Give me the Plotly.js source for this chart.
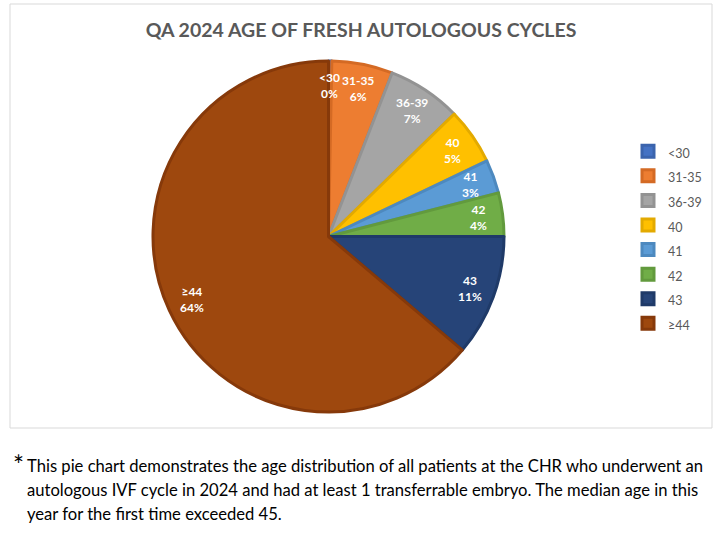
<!DOCTYPE html>
<html><head><meta charset="utf-8">
<script src="https://cdn.plot.ly/plotly-3.0.1.min.js"></script>
<style>html,body{margin:0;padding:0;background:#fff}#chart{width:724px;height:536px}</style>
</head><body><div id="chart"></div>
<script>
const categories = ['<30', '31-35', '36-39', '40', '41', '42', '43', '≥44'];
const shares = [0.3, 5.6, 6.8, 5.2, 3.1, 4.0, 11.2, 63.8];
const colors = ['#4472C4', '#ED7D31', '#A5A5A5', '#FFC000', '#5B9BD5', '#70AD47', '#264478', '#9E480E'];
const edgeColors = ['#3B64AD', '#D46A24', '#939393', '#E3AA00', '#4D89BF', '#629A3D', '#1F3A68', '#86390A'];
const chartTitle = 'QA 2024 AGE OF FRESH AUTOLOGOUS CYCLES';
const footnoteLines = [
  'This pie chart demonstrates the age distribution of all patients at the CHR who underwent an',
  'autologous IVF cycle in 2024 and had at least 1 transferrable embryo. The median age in this',
  'year for the first time exceeded 45.'
];

const W = 724, H = 536;
const pieLeft = 153, pieRight = 504, pieTop = 61, pieBottom = 412;
const cx = (pieLeft + pieRight) / 2, cy = (pieTop + pieBottom) / 2, R = (pieRight - pieLeft) / 2;
const legendLabels = categories.map(c => '<span style="font-size:12.5px">' + c + '</span>');

const trace = {
  type: 'pie',
  labels: legendLabels,
  values: shares,
  sort: false,
  direction: 'clockwise',
  rotation: 0,
  marker: {colors: colors, line: {color: edgeColors, width: 3}},
  textinfo: 'none',
  hoverinfo: 'none',
  domain: {x: [pieLeft / W, pieRight / W], y: [1 - pieBottom / H, 1 - pieTop / H]}
};

// data labels placed at the middle angle of each slice (derived from the values)
const total = shares.reduce((a, b) => a + b, 0);
let cum = 0;
const labelAnns = shares.map((v, i) => {
  const mid = (cum + v / 2) / total * 2 * Math.PI;
  cum += v;
  const px = cx + 0.86 * R * Math.sin(mid);
  const py = cy - 0.86 * R * Math.cos(mid);
  const txt = categories[i].replace('<', '&lt;') + '<br>' + Math.round(v / total * 100) + '%';
  return {
    xref: 'paper', yref: 'paper', x: px / W, y: 1 - py / H, xanchor: 'center', yanchor: 'middle',
    showarrow: false, align: 'center', text: '<b>' + txt + '</b>',
    font: {family: 'Lato, sans-serif', size: 12, color: '#ffffff'}
  };
});

const footAnns = footnoteLines.map((t, i) => ({
  xref: 'paper', yref: 'paper', x: 25 / W, y: 1 - (466 + 24 * i) / H, xanchor: 'left', yanchor: 'middle',
  align: 'left', showarrow: false, text: t,
  font: {family: 'Lato, sans-serif', size: 16.6, color: '#000000'}
}));

const layout = {
  width: W, height: H,
  margin: {l: 0, r: 0, t: 0, b: 0},
  paper_bgcolor: '#ffffff',
  font: {family: 'Lato, sans-serif', color: '#595959'},
  title: {
    text: '<b>' + chartTitle + '</b>',
    font: {family: 'Lato, sans-serif', size: 19.5, color: '#595959'},
    x: 361 / W, xanchor: 'center', y: 1 - 30 / H, yanchor: 'middle'
  },
  showlegend: true,
  legend: {
    x: 628 / W, xanchor: 'left', y: 1 - 134 / H, yanchor: 'top',
    font: {family: 'Lato, sans-serif', size: 16.6, color: '#595959'},
    bgcolor: 'rgba(0,0,0,0)', itemclick: false
  },
  shapes: [{
    type: 'rect', xref: 'paper', yref: 'paper',
    x0: 10 / W, x1: 712 / W, y0: 1 - 428 / H, y1: 1 - 4 / H,
    line: {color: '#D9D9D9', width: 1}, fillcolor: 'rgba(0,0,0,0)', layer: 'below'
  }],
  annotations: labelAnns.concat(footAnns, [{
    xref: 'paper', yref: 'paper', x: 11 / W, y: 1 - 465 / H, xanchor: 'left', yanchor: 'middle',
    showarrow: false, text: '*',
    font: {family: 'Lato, sans-serif', size: 26, color: '#000000'}
  }])
};

Plotly.newPlot('chart', [trace], layout, {staticPlot: true, displayModeBar: false});
</script>
</body></html>
